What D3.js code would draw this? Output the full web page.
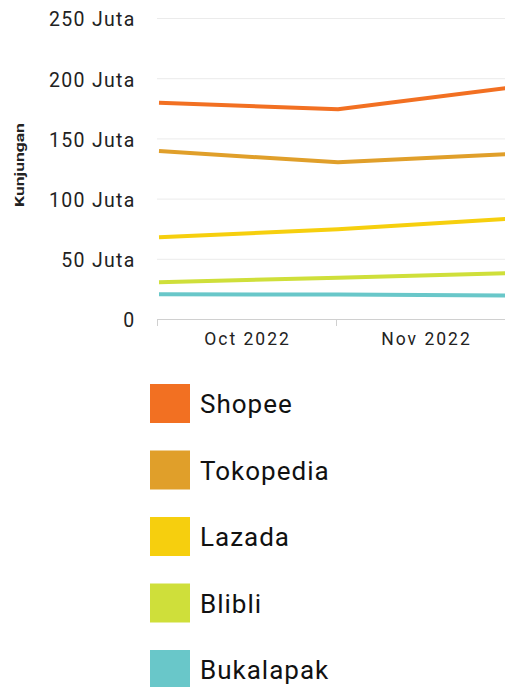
<!DOCTYPE html>
<html>
<head>
<meta charset="utf-8">
<script src="https://cdn.jsdelivr.net/npm/d3@7"></script>
<style>
  body { margin: 0; background: #fff; overflow: hidden; }
  svg { display: block; }
</style>
</head>
<body>
<div class="chart"></div>
<script>
// data (juta kunjungan)
var months = ["Oct 2022", "Nov 2022", "Dec 2022"];
var shopee = [179.6, 174.2, 193.0];
var tokopedia = [139.5, 130.1, 137.3];
var lazada = [67.9, 74.5, 83.7];
var blibli = [30.5, 34.3, 38.2];
var bukalapak = [20.5, 20.3, 19.5];
var seriesNames = ["Shopee", "Tokopedia", "Lazada", "Blibli", "Bukalapak"];
var seriesColors = ["#f27022", "#e09f2a", "#f6cf0e", "#cfdf3a", "#69c7c9"];
var yTicks = [0, 50, 100, 150, 200, 250];

var seriesValues = [shopee, tokopedia, lazada, blibli, bukalapak];

var svg = d3.select(".chart").append("svg")
    .attr("width", 505)
    .attr("height", 687);

var y = d3.scaleLinear()
    .domain([0, 250])
    .range([319, 18]);

// bands hold the labels, points sit on the band edges
var xBand = d3.scaleBand()
    .domain(months)
    .range([157, 157 + 179 * months.length]);

var x = d3.scalePoint()
    .domain(months)
    .range([159, 159 + 179 * (months.length - 1)]);

// gridlines
svg.append("g")
    .selectAll("line")
    .data(yTicks.filter(function(d){ return d > 0; }))
    .enter().append("line")
    .attr("x1", 157)
    .attr("x2", 700)
    .attr("y1", function(d){ return y(d) + 0.5; })
    .attr("y2", function(d){ return y(d) + 0.5; })
    .style("stroke", "#ebebeb")
    .style("stroke-width", 1);

// y axis labels
var yAxis = svg.append("g")
    .attr("transform", "translate(135.6,0)")
    .call(d3.axisLeft(y)
        .tickValues(yTicks)
        .tickSize(0)
        .tickPadding(0)
        .tickFormat(function(d){ return d === 0 ? "0" : d + " Juta"; }));
yAxis.select(".domain").remove();
yAxis.selectAll("text")
    .attr("dy", "0.4em")
    .style("font-family", "Roboto, sans-serif")
    .style("font-size", "19.5px")
    .style("letter-spacing", "1.3px")
    .style("fill", "#222");

// y axis title
svg.append("text")
    .attr("transform", "translate(24,165) rotate(-90) scale(1,0.78)")
    .attr("text-anchor", "middle")
    .style("font-family", "Roboto, sans-serif")
    .style("font-size", "17.5px")
    .style("font-weight", "bold")
    .style("fill", "#222")
    .text("Kunjungan");

// x axis (only the months that fit are labelled)
var xAxis = svg.append("g")
    .attr("transform", "translate(0,319)")
    .call(d3.axisBottom(xBand)
        .tickValues(months.slice(0, 2))
        .tickSize(0).tickSizeOuter(0).tickPadding(14));
xAxis.select(".domain")
    .attr("d", "M157,0.5H700")
    .style("stroke", "#d0d0d0");
xAxis.selectAll("text")
    .attr("dx", "1px")
    .style("font-family", "Roboto, sans-serif")
    .style("font-size", "17.5px")
    .style("letter-spacing", "2px")
    .style("fill", "#222");
xAxis.selectAll(".edge")
    .data(months)
    .enter().append("line")
    .attr("class", "edge")
    .attr("x1", function(d){ return xBand(d) + 0.5; })
    .attr("x2", function(d){ return xBand(d) + 0.5; })
    .attr("y1", 0)
    .attr("y2", 7)
    .style("stroke", "#d0d0d0");

// lines
var line = d3.line()
    .x(function(d, i){ return x(months[i]); })
    .y(function(d){ return y(d); });

svg.append("g")
    .selectAll("path")
    .data(seriesValues.slice().reverse())
    .enter().append("path")
    .attr("d", line)
    .style("fill", "none")
    .style("stroke", function(d, i){ return seriesColors[seriesColors.length - 1 - i]; })
    .style("stroke-width", 4)
    .style("stroke-linejoin", "round");

// legend
var legend = svg.append("g")
    .selectAll("g")
    .data(seriesNames)
    .enter().append("g")
    .attr("transform", function(d, i){ return "translate(150," + (384 + i * 66.5) + ")"; });

legend.append("rect")
    .attr("width", 40)
    .attr("height", 39)
    .style("fill", function(d, i){ return seriesColors[i]; });

legend.append("text")
    .attr("x", 50)
    .attr("y", 20)
    .attr("dy", "0.36em")
    .style("font-family", "Roboto, sans-serif")
    .style("font-size", "26px")
    .style("letter-spacing", "1px")
    .style("fill", "#111")
    .text(function(d){ return d; });
</script>
</body>
</html>
